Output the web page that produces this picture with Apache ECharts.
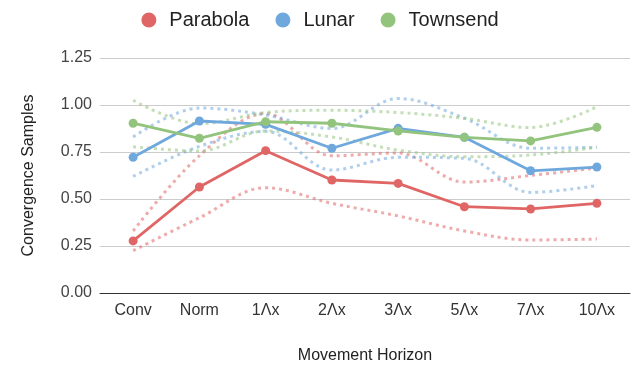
<!DOCTYPE html>
<html>
<head>
<meta charset="utf-8">
<script src="https://cdn.jsdelivr.net/npm/echarts@6/dist/echarts.min.js"></script>
<style>
html,body{margin:0;padding:0;background:#fff;}
#chart{width:640px;height:376px;}
</style>
</head>
<body>
<div id="chart"></div>
<script>
var categories = ['Conv', 'Norm', '1\u039Bx', '2\u039Bx', '3\u039Bx', '5\u039Bx', '7\u039Bx', '10\u039Bx'];
var yTicks = [0, 0.25, 0.5, 0.75, 1.0, 1.25];

var parabola      = [0.277, 0.564, 0.757, 0.601, 0.583, 0.459, 0.447, 0.477];
var parabolaUpper = [0.33, 0.73, 0.955, 0.73, 0.745, 0.59, 0.625, 0.665];
var parabolaLower = [0.225, 0.40, 0.56, 0.477, 0.41, 0.33, 0.282, 0.287];

var lunar      = [0.722, 0.915, 0.897, 0.77, 0.876, 0.828, 0.65, 0.670];
var lunarUpper = [0.83, 0.984, 0.947, 0.875, 1.035, 0.93, 0.77, 0.775];
var lunarLower = [0.62, 0.78, 0.86, 0.654, 0.722, 0.716, 0.535, 0.571];

var townsend      = [0.903, 0.823, 0.911, 0.903, 0.862, 0.828, 0.809, 0.881];
var townsendUpper = [1.025, 0.90, 0.96, 0.972, 0.96, 0.929, 0.88, 0.99];
var townsendLower = [0.778, 0.755, 0.862, 0.83, 0.76, 0.725, 0.734, 0.775];

var colors = {Parabola: '#e06666', Lunar: '#6fa8dc', Townsend: '#93c47d'};
var font = 'Liberation Sans, Arial, sans-serif';

function band(name, data, color) {
  return {
    name: name, type: 'line', data: data, smooth: 0.35,
    symbol: 'none', silent: true, z: 1,
    lineStyle: {color: color, width: 3, type: [3, 4], opacity: 0.55}
  };
}
function main(name, data) {
  return {
    name: name, type: 'line', data: data, z: 3,
    symbol: 'circle', symbolSize: 9,
    itemStyle: {color: colors[name]},
    lineStyle: {color: colors[name], width: 2.8}
  };
}

var chart = echarts.init(document.getElementById('chart'), null, {renderer: 'canvas'});
chart.setOption({
  animation: false,
  color: [colors.Parabola, colors.Lunar, colors.Townsend],
  legend: {
    data: ['Parabola', 'Lunar', 'Townsend'],
    top: 5, left: 'center',
    icon: 'circle', itemWidth: 15, itemHeight: 15, itemGap: 26,
    textStyle: {fontSize: 20, color: '#222', fontFamily: font, padding: [0, 0, 0, 8]}
  },
  grid: {left: 100, right: 10, top: 58, bottom: 83, containLabel: false},
  xAxis: {
    type: 'category', data: categories, boundaryGap: true,
    axisLine: {lineStyle: {color: '#333', width: 1}},
    axisTick: {show: false},
    axisLabel: {fontSize: 16, color: '#333', fontFamily: font, margin: 10},
    name: 'Movement Horizon', nameLocation: 'middle', nameGap: 55,
    nameTextStyle: {fontSize: 16, color: '#222', fontFamily: font}
  },
  yAxis: {
    type: 'value', min: yTicks[0], max: yTicks[yTicks.length - 1], interval: 0.25,
    axisLine: {show: false}, axisTick: {show: false},
    splitLine: {lineStyle: {color: '#cccccc', width: 1}},
    axisLabel: {fontSize: 16, color: '#444', fontFamily: font, margin: 8,
      formatter: function (v) { return v.toFixed(2); }},
    name: 'Convergence Samples', nameLocation: 'middle', nameGap: 63,
    nameTextStyle: {fontSize: 16, color: '#222', fontFamily: font}
  },
  series: [
    band('Parabola hi', parabolaUpper, colors.Parabola),
    band('Parabola lo', parabolaLower, colors.Parabola),
    band('Lunar hi', lunarUpper, colors.Lunar),
    band('Lunar lo', lunarLower, colors.Lunar),
    band('Townsend hi', townsendUpper, colors.Townsend),
    band('Townsend lo', townsendLower, colors.Townsend),
    main('Parabola', parabola),
    main('Lunar', lunar),
    main('Townsend', townsend)
  ]
});
</script>
</body>
</html>
